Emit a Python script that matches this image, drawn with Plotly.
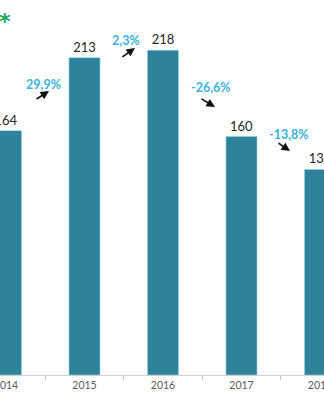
import plotly.graph_objects as go

years = ["2014", "2015", "2016", "2017", "2018"]
values = [164, 213, 218, 160, 138]

# percent change labels computed from the values
pct = [(values[i + 1] - values[i]) / values[i] * 100 for i in range(len(values) - 1)]
pct_text = [("%.1f%%" % p).replace(".", ",") for p in pct]

# layout placement of the change labels and arrows (data coords / pixel offsets)
pct_label_pos = [(0.484, 195.3), (1.529, 224.8), (2.611, 193.3), (3.605, 161.7)]
arrow_head_pos = [(0.548, 190.6), (1.643, 219.5), (2.662, 179.9), (3.618, 150.3)]
arrow_tail_off = [(-14, 9), (-14, 10), (-15, -9), (-13, -9)]

bar_color = "#2e8299"
pct_color = "#3ab2dc"

fig = go.Figure()
fig.add_trace(go.Bar(
    x=years, y=values,
    marker=dict(color=bar_color, line=dict(color="#8fd6ea", width=0.6)),
    text=[str(v) for v in values], textposition="outside",
    textfont=dict(family="Lato", size=13, color="#262626"),
    cliponaxis=False, width=0.395,
))

ann = []
for (x, y), t in zip(pct_label_pos, pct_text):
    ann.append(dict(x=x, y=y, xref="x", yref="y", text="<b>%s</b>" % t, showarrow=False,
                    font=dict(family="Lato", size=12.5, color=pct_color)))
for (x, y), (ax, ay) in zip(arrow_head_pos, arrow_tail_off):
    ann.append(dict(x=x, y=y, xref="x", yref="y", text="", showarrow=True,
                    ax=ax, ay=ay, arrowhead=2, arrowsize=1, arrowwidth=1.7,
                    arrowcolor="#111111", standoff=0))
ann.append(dict(x=0.0154, y=0.944, xref="paper", yref="paper", text="<b>*</b>",
                showarrow=False, xanchor="center", yanchor="middle",
                font=dict(family="DejaVu Sans", size=22, color="#22a85a")))

fig.update_layout(
    width=324, height=400,
    margin=dict(l=0, r=0, t=0, b=25, autoexpand=False),
    paper_bgcolor="white", plot_bgcolor="white",
    showlegend=False,
    annotations=ann,
    xaxis=dict(type="category", range=[-0.0764, 4.051], automargin=False, showline=True,
               linecolor="#d0d0d0", linewidth=1, ticks="outside", tickson="boundaries",
               ticklen=4, tickcolor="#c0c0c0", showgrid=False,
               tickfont=dict(family="Lato", size=10.5, color="#595959")),
    yaxis=dict(range=[0, 251.7], visible=False, automargin=False),
)

fig.write_html("out.html")
